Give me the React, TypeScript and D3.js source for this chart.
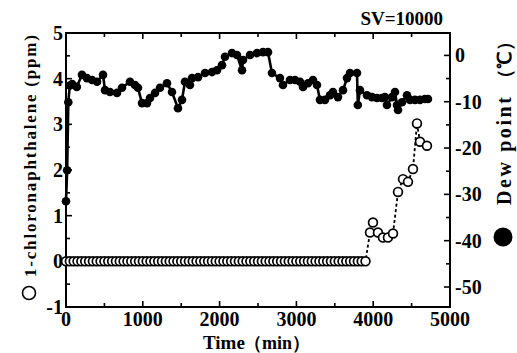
import React from "react";
import * as d3 from "d3";

// Dew point series (filled circles): time (min) and dew point (°C)
const dewTimes = [0, 15, 30, 50, 80, 140, 208, 273, 339, 404, 482, 508, 573, 664, 729, 833, 898, 937, 990, 1055, 1094, 1159, 1224, 1315, 1380, 1458, 1510, 1549, 1614, 1641, 1719, 1810, 1901, 1966, 2031, 2070, 2161, 2226, 2292, 2305, 2396, 2487, 2565, 2630, 2682, 2786, 2825, 2916, 2982, 3047, 3086, 3151, 3216, 3268, 3307, 3372, 3437, 3476, 3541, 3607, 3659, 3698, 3789, 3800, 3828, 3919, 3984, 4049, 4114, 4153, 4179, 4245, 4284, 4310, 4323, 4375, 4440, 4479, 4544, 4609, 4674, 4713];
const dewValues = [-31.5, -24.8, -10.1, -6.5, -6.2, -6.8, -4.2, -4.9, -5.3, -5.7, -4.2, -7.5, -7.9, -8.1, -7.0, -5.7, -6.4, -7.0, -10.3, -10.3, -9.2, -8.1, -7.0, -6.0, -7.9, -11.4, -9.6, -5.7, -6.4, -4.9, -4.7, -3.8, -3.6, -3.2, -2.1, -0.3, 0.5, 0.1, -3.2, -1.0, 0.1, 0.5, 0.7, 0.7, -3.8, -4.9, -6.4, -5.3, -5.3, -5.7, -6.8, -6.0, -5.3, -6.4, -9.6, -9.6, -8.6, -7.9, -9.0, -7.5, -4.9, -3.8, -3.8, -10.7, -7.5, -8.6, -9.0, -9.2, -9.2, -9.0, -10.7, -9.0, -7.9, -10.7, -11.8, -10.1, -8.6, -9.6, -9.6, -9.6, -9.4, -9.4];

// 1-chloronaphthalene series (open circles): time (min) and concentration (ppm)
const ppmTimes = [0, 50, 100, 150, 200, 250, 300, 350, 400, 450, 500, 550, 600, 650, 700, 750, 800, 850, 900, 950, 1000, 1050, 1100, 1150, 1200, 1250, 1300, 1350, 1400, 1450, 1500, 1550, 1600, 1650, 1700, 1750, 1800, 1850, 1900, 1950, 2000, 2050, 2100, 2150, 2200, 2250, 2300, 2350, 2400, 2450, 2500, 2550, 2600, 2650, 2700, 2750, 2800, 2850, 2900, 2950, 3000, 3050, 3100, 3150, 3200, 3250, 3300, 3350, 3400, 3450, 3500, 3550, 3600, 3650, 3700, 3750, 3800, 3850, 3900, 3958, 3997, 4062, 4127, 4192, 4258, 4323, 4388, 4453, 4518, 4570, 4609, 4700];
const ppmValues = [0, 0, 0, 0, 0, 0, 0, 0, 0, 0, 0, 0, 0, 0, 0, 0, 0, 0, 0, 0, 0, 0, 0, 0, 0, 0, 0, 0, 0, 0, 0, 0, 0, 0, 0, 0, 0, 0, 0, 0, 0, 0, 0, 0, 0, 0, 0, 0, 0, 0, 0, 0, 0, 0, 0, 0, 0, 0, 0, 0, 0, 0, 0, 0, 0, 0, 0, 0, 0, 0, 0, 0, 0, 0, 0, 0, 0, 0, 0, 0.63, 0.85, 0.63, 0.52, 0.52, 0.61, 1.52, 1.80, 1.74, 2.02, 3.02, 2.62, 2.53];

const xTicks = [0, 1000, 2000, 3000, 4000, 5000];
const xMinorTicks = [500, 1500, 2500, 3500, 4500];
const leftTicks = [-1, 0, 1, 2, 3, 4, 5];
const leftMinorTicks = [-0.5, 0.5, 1.5, 2.5, 3.5, 4.5];
const rightTicks = [0, -10, -20, -30, -40, -50];
const rightMinorTicks = [-5, -15, -25, -35, -45];

const FONT = "'Liberation Serif', 'Times New Roman', serif";

export default function App() {
  const x = d3.scaleLinear().domain([0, 5000]).range([66, 450]);
  const yL = d3.scaleLinear().domain([-1, 5]).range([307, 33]);
  const yR = d3.scaleLinear().domain([-50, 0]).range([287, 55.4]);

  const dewData = dewTimes.map((t, i) => [t, dewValues[i]] as [number, number]);
  const ppmData = ppmTimes.map((t, i) => [t, ppmValues[i]] as [number, number]);

  const dewLine = d3.line<[number, number]>().x(d => x(d[0])).y(d => yR(d[1]))(dewData) || "";
  const ppmLine = d3.line<[number, number]>().x(d => x(d[0])).y(d => yL(d[1]))(ppmData) || "";

  const left = x(0), right = x(5000), top = yL(5), bottom = yL(-1);

  return (
    <svg width={517} height={353} style={{ position: "absolute", left: 0, top: 0, background: "#fff" }}
      fontFamily={FONT} fontWeight="bold">
      <rect x={0} y={0} width={517} height={353} fill="#fff" />
      {/* frame */}
      <rect x={left} y={top} width={right - left} height={bottom - top} fill="none" stroke="#000" strokeWidth={2} />
      {/* x ticks */}
      {xTicks.map(t => (
        <g key={"xt" + t}>
          <line x1={x(t)} x2={x(t)} y1={bottom} y2={bottom - 6} stroke="#000" strokeWidth={1.6} />
          <line x1={x(t)} x2={x(t)} y1={top} y2={top + 6} stroke="#000" strokeWidth={1.6} />
          <text x={x(t)} y={326} textAnchor="middle" fontSize={20}>{t}</text>
        </g>
      ))}
      {xMinorTicks.map(t => (
        <g key={"xm" + t}>
          <line x1={x(t)} x2={x(t)} y1={bottom} y2={bottom - 4} stroke="#000" strokeWidth={1.6} />
          <line x1={x(t)} x2={x(t)} y1={top} y2={top + 4} stroke="#000" strokeWidth={1.6} />
        </g>
      ))}
      {/* left ticks */}
      {leftTicks.map(t => (
        <g key={"lt" + t}>
          <line x1={left} x2={left + 6} y1={yL(t)} y2={yL(t)} stroke="#000" strokeWidth={1.6} />
          <text x={63} y={yL(t) + 7} textAnchor="end" fontSize={20}>{t}</text>
        </g>
      ))}
      {leftMinorTicks.map(t => (
        <line key={"lm" + t} x1={left} x2={left + 4} y1={yL(t)} y2={yL(t)} stroke="#000" strokeWidth={1.6} />
      ))}
      {/* right ticks */}
      {rightTicks.map(t => (
        <g key={"rt" + t}>
          <line x1={right} x2={right - 6} y1={yR(t)} y2={yR(t)} stroke="#000" strokeWidth={1.6} />
          <text x={455} y={yR(t) + 7} textAnchor="start" fontSize={20}>{t}</text>
        </g>
      ))}
      {rightMinorTicks.map(t => (
        <line key={"rm" + t} x1={right} x2={right - 4} y1={yR(t)} y2={yR(t)} stroke="#000" strokeWidth={1.6} />
      ))}
      {/* dew point series */}
      <path d={dewLine} fill="none" stroke="#000" strokeWidth={2.6} />
      {dewData.map((d, i) => (
        <circle key={"dp" + i} cx={x(d[0])} cy={yR(d[1])} r={4.3} fill="#000" />
      ))}
      {/* ppm series */}
      <path d={ppmLine} fill="none" stroke="#000" strokeWidth={1.8} strokeDasharray="3,2.5" />
      {ppmData.map((d, i) => (
        <circle key={"pp" + i} cx={x(d[0])} cy={yL(d[1])} r={4.4} fill="#fff" stroke="#000" strokeWidth={1.7} />
      ))}
      {/* titles */}
      <text x={443} y={25} textAnchor="end" fontSize={19}>SV=10000</text>
      <text x={203} y={349} fontSize={19}>Time</text>
      <text x={244} y={349} fontSize={18}>（min）</text>
      <g transform="translate(36,277) rotate(-90)">
        <text x={0} y={0} textAnchor="start" fontSize={17} textLength={242} lengthAdjust="spacing">1-chloronaphthalene (ppm)</text>
      </g>
      <circle cx={29} cy={293} r={6.5} fill="none" stroke="#000" strokeWidth={1.6} />
      <g transform="translate(511,205) rotate(-90)">
        <text x={0} y={0} textAnchor="start" fontSize={20} textLength={108} lengthAdjust="spacing">Dew point</text>
        <text x={117} y={0} textAnchor="start" fontSize={19}>（℃）</text>
      </g>
      <circle cx={503} cy={237} r={9.5} fill="#000" />
    </svg>
  );
}
